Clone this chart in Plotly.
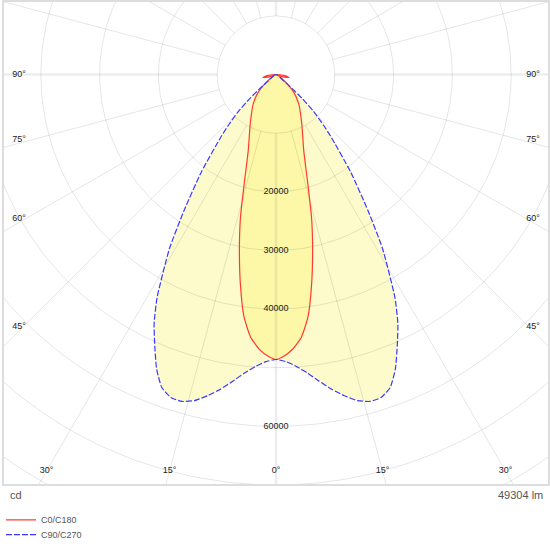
import numpy as np
import plotly.graph_objects as go

# luminous intensity, cd (symmetric halves)
GAMMA_C0 = [0, 1.5, 3.5, 5.5, 7.5, 9.6, 11.7, 13.9, 16.2, 20, 27.5, 37.5, 45, 50, 55, 62, 70, 77, 83, 90]
I_C0 = [48600, 48100, 46900, 45000, 41700, 36300, 30700, 25200, 19400, 13800, 9500, 6400, 4300, 2600,
        1100, 500, 1000, 2300, 1500, 0]

GAMMA_C90 = [0, 2, 4, 6, 8, 10, 12, 14, 16, 18, 20, 22, 24, 26, 28, 31.4, 34, 37.4, 41.5, 43,
             45.5, 47.5, 49, 50, 55, 70, 90]
I_C90 = [48600, 49000, 49900, 51200, 52800, 54500, 56000, 57300, 58000, 57900, 56800, 54200, 50700,
         47300, 43100, 34800, 28000, 20900, 14000, 12000, 9000, 6000, 3500, 2000, 800, 300, 0]

RING_VALUES = [10000, 20000, 30000, 40000, 50000, 60000, 70000, 80000, 90000]
RING_LABELS = [20000, 30000, 40000, 60000]
ANGLE_TICKS = [0, 15, 30, 45, 60, 75, 90]
LUMEN = 49304

PX_PER_CD = 5.9 / 1000  # 10000 cd ~ 59 px
GRID = "rgba(0,0,0,0.10)"
AXIS = "rgba(0,0,0,0.07)"
RED = "#ff3b30"
BLUE = "#3a3aff"
FONT = "Liberation Sans, Arial"


def polar_xy(gamma, intensity, side=1):
    g = np.radians(np.asarray(gamma, dtype=float))
    r = np.asarray(intensity, dtype=float)
    return side * r * np.sin(g), -r * np.cos(g)


def closed_curve(gamma, intensity):
    # left half from 90 deg down to nadir, then right half back up, nadir only once
    xl, yl = polar_xy(gamma[::-1], intensity[::-1], -1)
    xr, yr = polar_xy(gamma[1:], intensity[1:], 1)
    return np.concatenate([xl, xr]), np.concatenate([yl, yr])


fig = go.Figure()

# fills first, grid drawn over them
cx90, cy90 = closed_curve(GAMMA_C90, I_C90)
cx0, cy0 = closed_curve(GAMMA_C0, I_C0)
fig.add_trace(go.Scatter(x=cx90, y=cy90, mode="lines", fill="toself", fillcolor="#fdfbcc",
                         line={"width": 0, "shape": "spline", "smoothing": 0.5},
                         hoverinfo="skip", showlegend=False))
fig.add_trace(go.Scatter(x=cx0, y=cy0, mode="lines", fill="toself", fillcolor="#fcf8a8",
                         line={"width": 0, "shape": "spline", "smoothing": 0.5},
                         hoverinfo="skip", showlegend=False))

# rings
t = np.linspace(0, 2 * np.pi, 361)
rx, ry = [], []
for r in RING_VALUES:
    rx += list(r * np.cos(t)) + [None]
    ry += list(r * np.sin(t)) + [None]
fig.add_trace(go.Scatter(x=rx, y=ry, mode="lines", line={"color": GRID, "width": 1},
                         hoverinfo="skip", showlegend=False))

# spokes every 15 deg, starting at the inner ring
sx, sy, ax, ay = [], [], [], []
for a in range(0, 360, 15):
    x, y = polar_xy([a, a], [RING_VALUES[0], 120000])
    if a % 90 == 0:
        ax += list(x) + [None]
        ay += list(y) + [None]
    else:
        sx += list(x) + [None]
        sy += list(y) + [None]
fig.add_trace(go.Scatter(x=sx, y=sy, mode="lines", line={"color": GRID, "width": 1},
                         hoverinfo="skip", showlegend=False))
fig.add_trace(go.Scatter(x=ax, y=ay, mode="lines", line={"color": AXIS, "width": 2.5},
                         hoverinfo="skip", showlegend=False))

# curves, each in its own legend so the rows sit close together
fig.add_trace(go.Scatter(x=cx0, y=cy0, mode="lines", name="C0/C180", legend="legend",
                         line={"color": RED, "width": 1.2, "shape": "spline", "smoothing": 0.5}))
fig.add_trace(go.Scatter(x=cx90, y=cy90, mode="lines", name="C90/C270", legend="legend2",
                         line={"color": BLUE, "width": 1.2, "dash": "6px,2px",
                               "shape": "spline", "smoothing": 0.5}))

# intensity labels along nadir
fig.add_trace(go.Scatter(x=[0] * len(RING_LABELS), y=[-v for v in RING_LABELS], mode="text",
                         text=[str(v) for v in RING_LABELS],
                         textfont={"family": FONT, "size": 9, "color": "#222"},
                         hoverinfo="skip", showlegend=False))

# angle labels where the spokes leave the frame
side_x = 258 / PX_PER_CD
bottom_y = 399 / PX_PER_CD
lx, ly, lt = [], [], []
for a in ANGLE_TICKS:
    g = np.radians(a)
    if a == 0 or np.tan(g) * bottom_y < side_x:
        px, py = bottom_y * np.tan(g), -bottom_y
    else:
        px, py = side_x, -side_x / np.tan(g) + 4 / PX_PER_CD * (a < 90)
    for s in ([1] if a == 0 else [1, -1]):
        lx.append(s * px)
        ly.append(py)
        lt.append(f"{a}°")
fig.add_trace(go.Scatter(x=lx, y=ly, mode="text", text=lt,
                         textfont={"family": FONT, "size": 9, "color": "#222"},
                         hoverinfo="skip", showlegend=False))

W, H = 548, 487
fig.update_xaxes(range=[-274 / PX_PER_CD, 274 / PX_PER_CD], showgrid=False, zeroline=False,
                 showticklabels=False, fixedrange=True)
fig.update_yaxes(range=[-(H - 74) / PX_PER_CD, 74 / PX_PER_CD], showgrid=False, zeroline=False,
                 showticklabels=False, fixedrange=True)

fig.add_shape(type="rect", xref="paper", yref="paper", x0=0, y0=0, x1=1, y1=1,
              line={"color": "#dddddd", "width": 2})
fig.add_annotation(text="cd", xref="paper", yref="paper", x=5 / W, y=-10 / H, xanchor="left",
                   yanchor="middle", showarrow=False,
                   font={"family": FONT, "size": 11, "color": "#555"})
fig.add_annotation(text=f"{LUMEN} lm", xref="paper", yref="paper", x=1 - 4 / W, y=-10 / H,
                   xanchor="right", yanchor="middle", showarrow=False,
                   font={"family": FONT, "size": 11, "color": "#555"})

legend_style = {"x": -2 / W, "xanchor": "left", "yanchor": "middle",
                "font": {"family": FONT, "size": 9, "color": "#555"},
                "itemwidth": 30, "bgcolor": "rgba(0,0,0,0)"}

fig.update_layout(
    width=550,
    height=550,
    margin={"l": 1, "r": 1, "t": 1, "b": 62},
    paper_bgcolor="white",
    plot_bgcolor="white",
    showlegend=True,
    legend={**legend_style, "y": -35 / H},
    legend2={**legend_style, "y": -50 / H},
)

fig.write_html("out.html", config={"displayModeBar": False},
               post_script="document.body.style.margin='0px';")
